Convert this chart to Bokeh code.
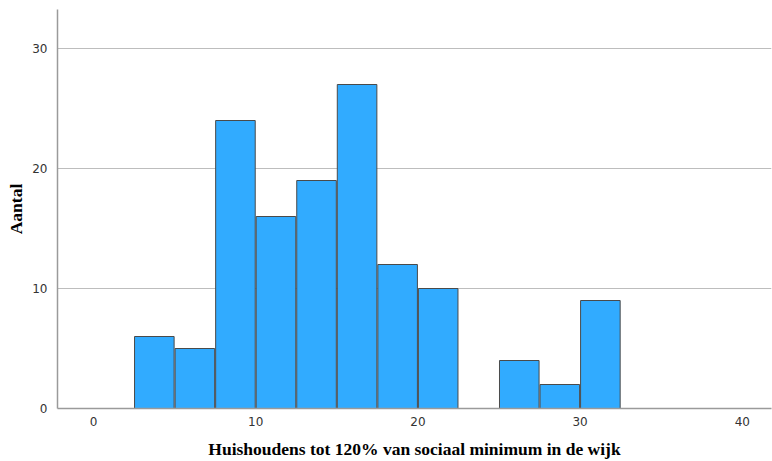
from bokeh.plotting import figure
from bokeh.models import Range1d, FixedTicker, ColumnDataSource
from bokeh.embed import file_html
from bokeh.resources import INLINE

# Histogram bins (lower edges), bin width and counts
bin_left = [2.5, 5.0, 7.5, 10.0, 12.5, 15.0, 17.5, 20.0, 22.5, 25.0, 27.5, 30.0]
bin_width = 2.5
counts = [6, 5, 24, 16, 19, 27, 12, 10, 0, 4, 2, 9]
x_ticks = [0, 10, 20, 30, 40]
y_ticks = [0, 10, 20, 30]

inset = 0.03
src = ColumnDataSource(dict(
    left=[b + inset for b in bin_left],
    right=[b + bin_width - inset for b in bin_left],
    top=counts,
    bottom=[0] * len(counts),
))

p = figure(width=772, height=461, output_backend="svg", toolbar_location=None,
           x_range=Range1d(-2.22, 41.8), y_range=Range1d(0, 33.25),
           min_border_top=9, min_border_right=1, min_border_left=57,
           min_border_bottom=0)
p.outline_line_color = None
p.background_fill_color = "white"
p.border_fill_color = "white"

p.quad(left="left", right="right", top="top", bottom="bottom", source=src,
       fill_color="#31ABFF", line_color="#4a4a4a", line_width=1)

p.xgrid.grid_line_color = None
p.ygrid.grid_line_color = "#bdbdbd"
p.ygrid.ticker = FixedTicker(ticks=y_ticks)

for ax in (p.xaxis[0], p.yaxis[0]):
    ax.axis_line_color = "#9a9a9a"
    ax.axis_line_width = 1.5
    ax.major_tick_line_color = None
    ax.minor_tick_line_color = None
    ax.major_label_text_font = "DejaVu Sans"
    ax.major_label_text_font_size = "12px"
    ax.major_label_text_color = "#333333"
    ax.axis_label_text_font = "Liberation Serif"
    ax.axis_label_text_font_style = "bold"
    ax.axis_label_text_font_size = "17.5px"
    ax.axis_label_text_color = "#000000"

p.xaxis[0].ticker = FixedTicker(ticks=x_ticks)
p.yaxis[0].ticker = FixedTicker(ticks=y_ticks)
p.xaxis[0].axis_label = "Huishoudens tot 120% van sociaal minimum in de wijk"
p.yaxis[0].axis_label = "Aantal"
p.xaxis[0].major_label_standoff = 2
p.xaxis[0].axis_label_standoff = 10
p.yaxis[0].major_label_standoff = 4
p.yaxis[0].axis_label_standoff = 3

open("out.html", "w").write(file_html(p, INLINE))
